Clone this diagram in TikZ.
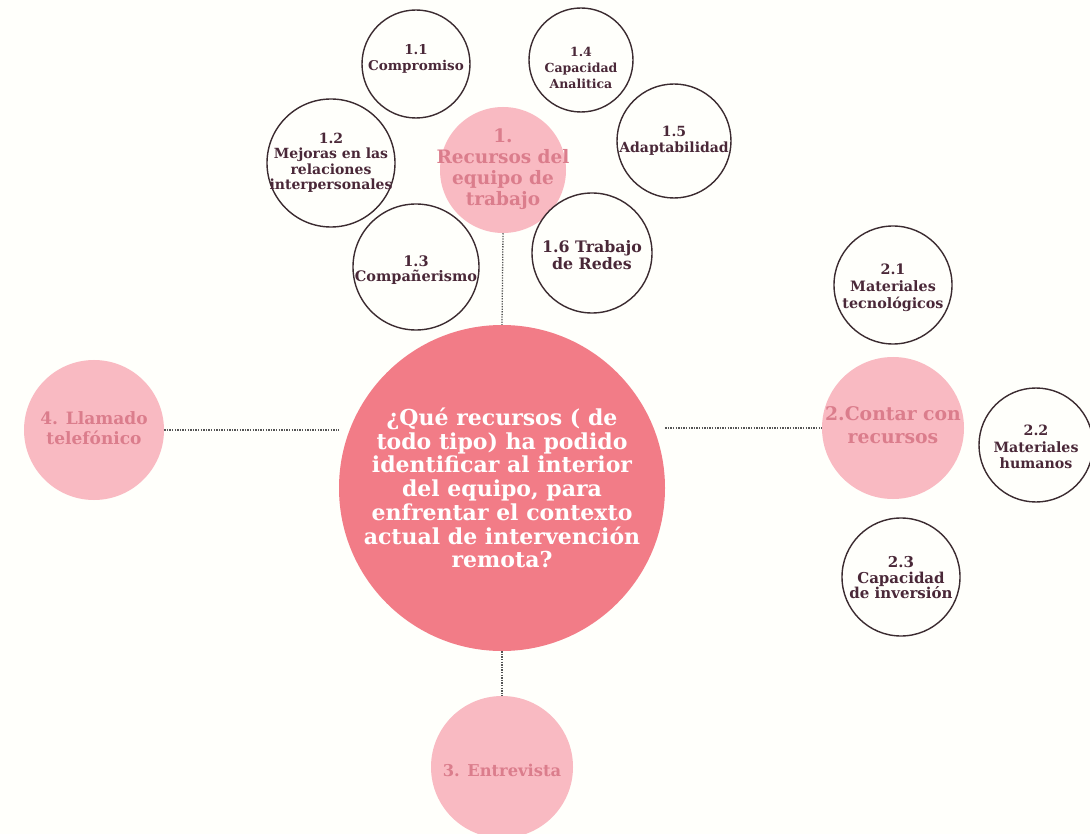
\documentclass[tikz,border=0pt]{standalone}
\usepackage{fontspec}
\setmainfont{DejaVu Serif}
\newfontfamily\slab{DejaVu Serif}
\definecolor{bgc}{HTML}{FFFFFB}
\definecolor{mainc}{HTML}{F27C87}
\definecolor{lightc}{HTML}{F9BAC2}
\definecolor{lighttext}{HTML}{DB7D8C}
\definecolor{ringc}{HTML}{3B2B30}
\definecolor{smalltext}{HTML}{4A2838}
\definecolor{dotc}{HTML}{555555}
\newcommand{\fsz}[2]{\slab\bfseries\fontsize{#1}{#2}\selectfont}
\tikzset{
  centerc/.style={circle, fill=mainc, inner sep=0pt, minimum size=#1},
  ctext/.style={align=center, text=white, font=\fsz{22}{23.7}, inner sep=0pt},
  branch/.style={circle, fill=lightc, inner sep=0pt, minimum size=#1},
  btext/.style={align=center, text=lighttext, font=\fsz{18.5}{21}, inner sep=0pt},
  leaf/.style={circle, draw=ringc, line width=1.4pt, fill=bgc, inner sep=0pt, minimum size=#1},
  ltext/.style={align=center, text=smalltext, font=\fsz{13.5}{15.5}, inner sep=0pt},
  link/.style={draw=dotc, line width=1.3pt, dash pattern=on 1.3pt off 1.3pt}
}
\begin{document}
\begin{tikzpicture}[x=1pt,y=-1pt]
\path[fill=bgc] (0,0) rectangle (1090,834);
\useasboundingbox (0,0) rectangle (1090,834);
% center
\node[centerc=326pt, label={[ctext]center:{¿Qué recursos ( de\\todo tipo) ha podido\\identificar al interior\\del equipo, para\\enfrentar el contexto\\actual de intervención\\remota?}}] (c) at (502,488) {};
% branches
\node[branch=126pt, label={[btext, yshift=1pt]center:{1.\\Recursos del\\equipo de\\trabajo}}] (b1) at (503,170) {};
\node[branch=142pt, label={[btext, font=\fsz{18.8}{23}, yshift=3pt]center:{2.Contar con\\recursos}}] (b2) at (893,428) {};
\node[branch=142pt, label={[btext, font=\fsz{16.3}{20}, yshift=-3pt]center:{3. Entrevista}}] (b3) at (502,767) {};
\node[branch=140pt, label={[btext, font=\fsz{17}{20}, yshift=2pt]center:{4. Llamado\\telefónico}}] (b4) at (94,430) {};
% leaves of 1
\node[leaf=108pt, label={[ltext, yshift=5pt]center:{1.1\\Compromiso}}] (l11) at (416,64) {};
\node[leaf=128pt, label={[ltext, font=\fsz{14}{15.5}]center:{1.2\\Mejoras en las\\relaciones\\interpersonales}}] (l12) at (331,163) {};
\node[leaf=126pt, label={[ltext, font=\fsz{14.5}{15}, yshift=-3pt]center:{1.3\\Compañerismo}}] (l13) at (416,267) {};
\node[leaf=104pt, label={[ltext, font=\fsz{12.5}{16}, yshift=-8pt]center:{1.4\\Capacidad\\Analitica}}] (l14) at (581,60) {};
\node[leaf=114pt, label={[ltext, font=\fsz{14}{15.5}]center:{1.5\\Adaptabilidad}}] (l15) at (674,141) {};
\node[leaf=120pt, label={[ltext, font=\fsz{15.8}{17}, yshift=-2pt]center:{1.6 Trabajo\\de Redes}}] (l16) at (592,253) {};
% leaves of 2
\node[leaf=118pt, label={[ltext, font=\fsz{14.3}{17}, yshift=-3pt]center:{2.1\\Materiales\\tecnológicos}}] (l21) at (893,285) {};
\node[leaf=114pt, label={[ltext, font=\fsz{14.2}{16.5}, yshift=-2pt]center:{2.2\\Materiales\\humanos}}] (l22) at (1036,445) {};
\node[leaf=118pt, label={[ltext, font=\fsz{15}{15.5}, yshift=-1pt]center:{2.3\\Capacidad\\de inversión}}] (l23) at (901,577) {};
% connectors
\draw[link] (b1.south) -- (c.north);
\draw[link] (c.east |- b2.west) -- (b2.west);
\draw[link] (c.south) -- (b3.north);
\draw[link] (b4.east) -- (b4.east -| c.west);
\end{tikzpicture}
\end{document}
